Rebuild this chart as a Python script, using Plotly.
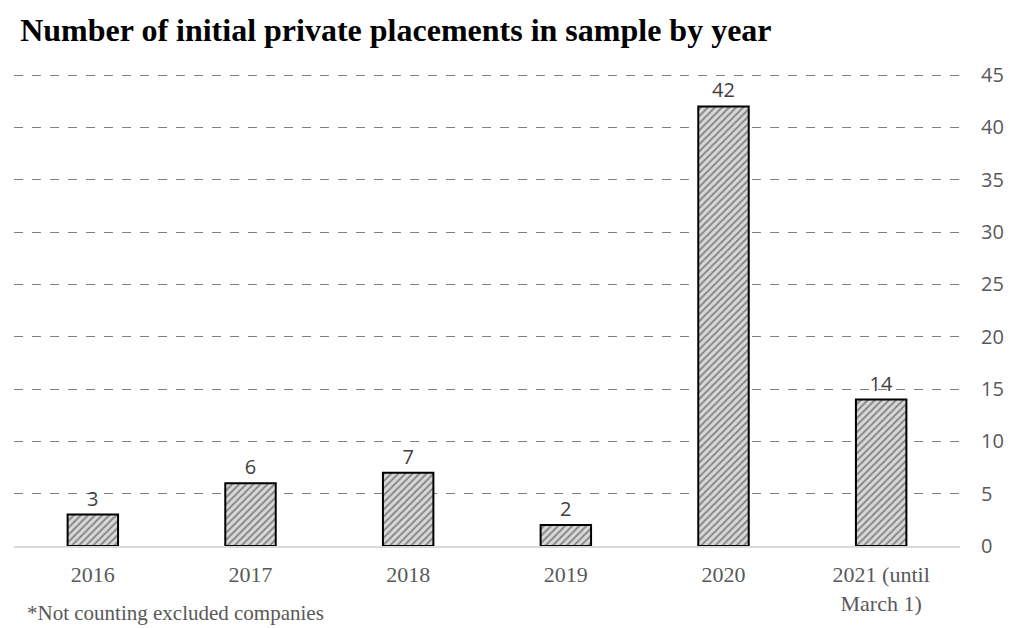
import plotly.graph_objects as go

years = ["2016", "2017", "2018", "2019", "2020", "2021 (until<br>March 1)"]
counts = [3, 6, 7, 2, 42, 14]
y_ticks = [0, 5, 10, 15, 20, 25, 30, 35, 40, 45]

fig = go.Figure()
fig.add_trace(go.Bar(
    x=years, y=counts, width=0.32,
    marker=dict(color="#d0d0d0", line=dict(color="#000000", width=2),
                pattern=dict(shape="/", fgcolor="#333333", bgcolor="#d9d9d9", size=5, solidity=0.4)),
    text=[str(c) for c in counts], textposition="outside",
    textfont=dict(family="Open Sans, Calibri, sans-serif", size=20, color="#404040"),
    cliponaxis=False,
))

fig.update_layout(
    width=1010, height=628,
    paper_bgcolor="white", plot_bgcolor="white",
    margin=dict(l=14, r=50, t=73, b=82, autoexpand=False),
    showlegend=False,
    title=dict(text="<b>Number of initial private placements in sample by year</b>",
               x=0.02, xanchor="left", y=0.952, yanchor="middle",
               font=dict(family="Liberation Serif, Times New Roman, serif", size=32, color="#000000")),
    xaxis=dict(showgrid=False, showline=True, linecolor="#d9d9d9", linewidth=2,
               tickfont=dict(family="Liberation Serif, Times New Roman, serif", size=22, color="#595959"),
               ticks="", ticklabelstandoff=8, automargin=False),
    yaxis=dict(side="right", range=[0, 45.2], tickvals=y_ticks, showgrid=True,
               gridcolor="#808080", griddash="dash", gridwidth=1, zeroline=False,
               showline=False, ticks="", automargin=False,
               tickfont=dict(family="Open Sans, Calibri, sans-serif", size=20, color="#595959"),
               ticklabelstandoff=20),
    bargap=0.68,
)

fig.add_annotation(text="*Not counting excluded companies", xref="paper", yref="paper",
                   x=0.012, y=-0.112, xanchor="left", yanchor="top", showarrow=False,
                   font=dict(family="Liberation Serif, Times New Roman, serif", size=21, color="#595959"))

fig.write_html("out.html")
